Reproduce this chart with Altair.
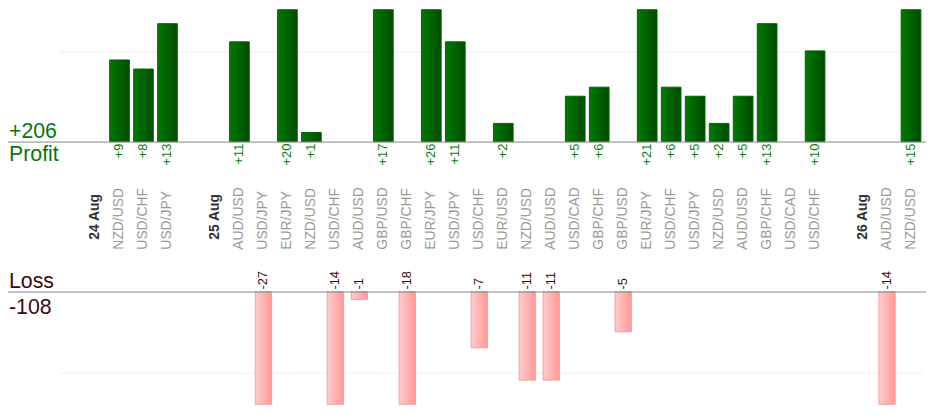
import altair as alt
import pandas as pd

# ---- data ----
slot_labels = ["", "24 Aug", "NZD/USD", "USD/CHF", "USD/JPY", "", "25 Aug", "AUD/USD",
               "USD/JPY", "EUR/JPY", "NZD/USD", "USD/CHF", "AUD/USD", "GBP/USD", "GBP/CHF",
               "EUR/JPY", "USD/JPY", "USD/CHF", "EUR/USD", "NZD/USD", "AUD/USD", "USD/CAD",
               "GBP/CHF", "GBP/USD", "EUR/JPY", "USD/CHF", "USD/JPY", "NZD/USD", "AUD/USD",
               "GBP/CHF", "USD/CAD", "USD/CHF", "", "26 Aug", "AUD/USD", "NZD/USD"]
date_labels = ["24 Aug", "25 Aug", "26 Aug"]

profit = [None, None, 9, 8, 13, None, None, 11,
          None, 20, 1, None, None, 17, None,
          26, 11, None, 2, None, None, 5,
          6, None, 21, 6, 5, 2, 5,
          13, None, 10, None, None, None, 15]
loss = [None, None, None, None, None, None, None, None,
        -27, None, None, -14, -1, None, -18,
        None, None, -7, None, -11, -11, None,
        None, -5, None, None, None, None, None,
        None, None, None, None, None, -14, None]

total_profit = sum(v for v in profit if v is not None)
total_loss = sum(v for v in loss if v is not None)

# ---- tables ----
slots = list(range(len(slot_labels)))
df = pd.DataFrame({"slot": slots, "name": slot_labels, "profit": profit, "loss": loss})
df_p = df[df["profit"].notna()].copy()
df_p["label"] = df_p["profit"].map(lambda v: f"+{int(v)}")
df_l = df[df["loss"].notna()].copy()
df_l["label"] = df_l["loss"].map(lambda v: f"{int(v)}")
df_pairs = df[(df["name"] != "") & (~df["name"].isin(date_labels))]
df_dates = df[df["name"].isin(date_labels)]

FONT = "Liberation Sans"
W, H = 871, 398

xscale = alt.Scale(domain=slots, paddingInner=0, paddingOuter=0)
pscale = alt.Scale(domain=[0, 14.54], range=[133, 0], clamp=True)
lscale = alt.Scale(domain=[-14, 0], range=[398, 284.3], clamp=True)

X = alt.X("slot:O", scale=xscale, axis=None)

green_grad = alt.LinearGradient(
    gradient="linear", x1=0, x2=1, y1=0, y2=0,
    stops=[alt.GradientStop(color="#007a00", offset=0),
           alt.GradientStop(color="#004a00", offset=1)])
pink_grad = alt.LinearGradient(
    gradient="linear", x1=0, x2=1, y1=0, y2=0,
    stops=[alt.GradientStop(color="#ffcccc", offset=0),
           alt.GradientStop(color="#ff9898", offset=1)])

profit_bars = alt.Chart(df_p).mark_bar(
    fill=green_grad, stroke="#006600", strokeWidth=1,
    width=alt.RelativeBandSize(0.82)
).encode(
    x=X,
    y=alt.Y("profit:Q", scale=pscale,
            axis=alt.Axis(values=[10], grid=True, gridColor="#eeeeee", labels=False,
                          ticks=False, domain=False, title=None, orient="left")),
)

loss_bars = alt.Chart(df_l).mark_bar(
    fill=pink_grad, stroke="#ff9c9c", strokeWidth=1,
    width=alt.RelativeBandSize(0.68)
).encode(
    x=X,
    y=alt.Y("loss:Q", scale=lscale,
            axis=alt.Axis(values=[-10], grid=True, gridColor="#eeeeee", labels=False,
                          ticks=False, domain=False, title=None, orient="left")),
)

base_src = pd.DataFrame({"k": [0]})
profit_base = alt.Chart(base_src).mark_rule(color="#888888", strokeWidth=1, yOffset=0.5).encode(
    y=alt.YDatum(0, type="quantitative", scale=pscale, axis=None),
    x=alt.value(-52), x2=alt.value(W + 3))
loss_base = alt.Chart(base_src).mark_rule(color="#888888", strokeWidth=1, yOffset=0.5).encode(
    y=alt.YDatum(0, type="quantitative", scale=lscale, axis=None),
    x=alt.value(-52), x2=alt.value(W + 3))

profit_text = alt.Chart(df_p).mark_text(
    font=FONT, fontSize=13, angle=270, align="right", baseline="middle",
    dx=-2, color="#0a7a0a"
).encode(x=X, y=alt.YDatum(0, type="quantitative", scale=pscale, axis=None), text="label:N")

loss_text = alt.Chart(df_l).mark_text(
    font=FONT, fontSize=13, angle=270, align="left", baseline="middle",
    dx=2, color="#3a0a0a"
).encode(x=X, y=alt.YDatum(0, type="quantitative", scale=lscale, axis=None), text="label:N")

pair_text = alt.Chart(df_pairs).mark_text(
    font=FONT, fontSize=14, angle=270, align="left", baseline="middle", color="#999999"
).encode(x=X, y=alt.value(242), text="name:N")

date_text = alt.Chart(df_dates).mark_text(
    font=FONT, fontSize=14, fontWeight="bold", angle=270, align="left",
    baseline="middle", color="#333333"
).encode(x=X, y=alt.value(232), text="name:N")

tot_p = pd.DataFrame({"t": [f"+{total_profit}"]})
tot_l = pd.DataFrame({"t": [f"{total_loss}"]})
ttl_p = pd.DataFrame({"t": ["Profit"]})
ttl_l = pd.DataFrame({"t": ["Loss"]})

def side_label(src, scale, dy, color):
    return alt.Chart(src).mark_text(
        font=FONT, fontSize=21.5, align="left", baseline="alphabetic", dy=dy, color=color
    ).encode(x=alt.value(-51),
             y=alt.YDatum(0, type="quantitative", scale=scale, axis=None),
             text="t:N")

lab1 = side_label(tot_p, pscale, -4, "#0a760a")
lab2 = side_label(ttl_p, pscale, 20, "#0a760a")
lab3 = side_label(ttl_l, lscale, -4, "#3a0a0a")
lab4 = side_label(tot_l, lscale, 22.5, "#3a0a0a")

chart = alt.layer(
    profit_bars, loss_bars, profit_base, loss_base, profit_text, loss_text,
    pair_text, date_text, lab1, lab2, lab3, lab4
).resolve_scale(y="independent").properties(
    width=W, height=H,
    padding={"left": 52, "top": 0, "right": 3, "bottom": 0},
    autosize=alt.AutoSizeParams(type="none"),
).configure_view(stroke=None)

chart.save("out.html", embed_options={"renderer": "svg", "actions": False})
